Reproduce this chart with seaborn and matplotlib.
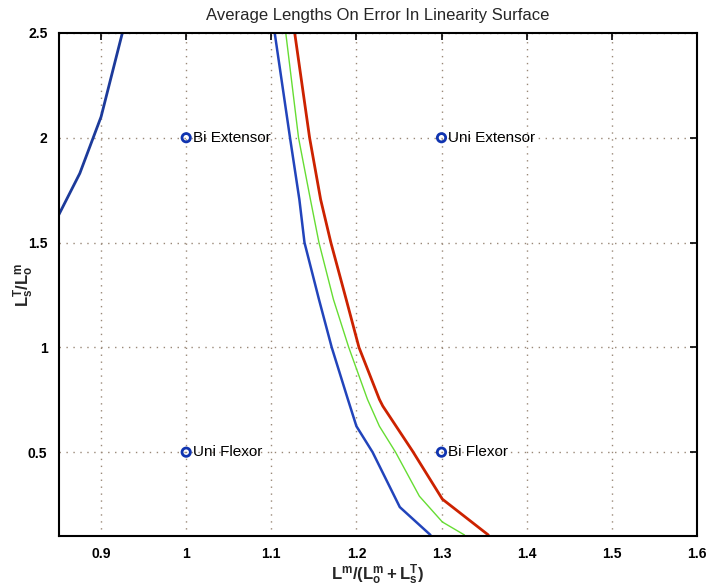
import matplotlib
matplotlib.use("Agg")
import matplotlib.pyplot as plt
import seaborn as sns
import pandas as pd

# Data
left_x = [0.85, 0.875, 0.90, 0.925]
left_y = [1.63, 1.83, 2.10, 2.50]

blue_x = [1.104, 1.122, 1.133, 1.139, 1.156, 1.171, 1.190, 1.200, 1.219, 1.251, 1.287]
blue_y = [2.50, 2.00, 1.705, 1.50, 1.229, 1.00, 0.752, 0.624, 0.50, 0.238, 0.105]

green_x = [1.117, 1.132, 1.146, 1.156, 1.173, 1.191, 1.213, 1.227, 1.246, 1.274, 1.301, 1.327]
green_y = [2.50, 2.00, 1.705, 1.50, 1.229, 1.00, 0.752, 0.624, 0.50, 0.29, 0.167, 0.105]

red_x = [1.1275, 1.145, 1.158, 1.170, 1.188, 1.203, 1.227, 1.231, 1.266, 1.301, 1.355]
red_y = [2.50, 2.00, 1.705, 1.50, 1.229, 1.00, 0.752, 0.72, 0.505, 0.276, 0.105]

pt_x = [1.0, 1.3, 1.0, 1.3]
pt_y = [2.0, 2.0, 0.5, 0.5]
pt_labels = ["Bi Extensor", "Uni Extensor", "Uni Flexor", "Bi Flexor"]

x_ticks = [0.9, 1.0, 1.1, 1.2, 1.3, 1.4, 1.5, 1.6]
x_ticklabels = ["0.9", "1", "1.1", "1.2", "1.3", "1.4", "1.5", "1.6"]
y_ticks = [0.5, 1.0, 1.5, 2.0, 2.5]
y_ticklabels = ["0.5", "1", "1.5", "2", "2.5"]

sns.set_style("white")
plt.rcParams['font.family'] = ['Liberation Sans', 'DejaVu Sans']
plt.rcParams['mathtext.default'] = 'regular'

fig = plt.figure(figsize=(7.06, 5.88), dpi=100)
ax = fig.add_axes([0.0829, 0.0884, 0.9041, 0.8556])

series = [
    (left_x, left_y, "#1c3a9a", 2.0),
    (blue_x, blue_y, "#2244bb", 1.8),
    (green_x, green_y, "#66dd33", 1.0),
    (red_x, red_y, "#cc2200", 2.0),
]
for xs, ys, col, lw in series:
    df = pd.DataFrame({"x": xs, "y": ys})
    sns.lineplot(data=df, x="x", y="y", sort=False, estimator=None,
                 color=col, linewidth=lw, ax=ax)

dfp = pd.DataFrame({"x": pt_x, "y": pt_y})
sns.scatterplot(data=dfp, x="x", y="y", marker="o", s=36, facecolors="none",
                edgecolor="#1034b0", linewidth=2.0, ax=ax, zorder=5)
for x, y, t in zip(pt_x, pt_y, pt_labels):
    ax.annotate(t, (x, y), xytext=(5, 0), textcoords="offset points",
                ha="left", va="center", fontsize=11, color="black")

ax.set_xlim(0.85, 1.6)
ax.set_ylim(0.1, 2.5)
ax.set_xticks(x_ticks)
ax.set_xticklabels(x_ticklabels, fontweight="bold", fontsize=10)
ax.set_yticks(y_ticks)
ax.set_yticklabels(y_ticklabels, fontweight="bold", fontsize=10)
ax.tick_params(direction="in", length=5, width=1.2, top=True, right=True,
               pad=8, colors="black")
ax.grid(True, linestyle=(0, (1, 4)), color="#998877", linewidth=1.0)
for s in ax.spines.values():
    s.set_visible(True)
    s.set_color("black")
    s.set_linewidth(1.5)

ax.set_xlabel(r"$L^m/(L_o^m+L_s^T)$", fontsize=12, fontweight="bold")
ax.xaxis.set_label_coords(0.5, -0.052)
ax.set_ylabel(r"$L_s^T/L_o^m$", fontsize=12, fontweight="bold")
ax.yaxis.set_label_coords(-0.036, 0.5)
ax.set_title("Average Lengths On Error In Linearity Surface", fontsize=12, pad=9)

fig.savefig("out.png", dpi=100)
